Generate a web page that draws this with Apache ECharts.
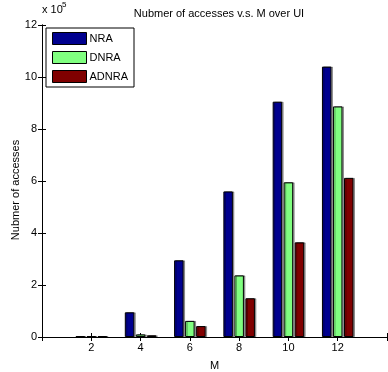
<!DOCTYPE html>
<html><head><meta charset="utf-8">
<script src="https://cdn.jsdelivr.net/npm/echarts@6/dist/echarts.min.js"></script>
<style>html,body{margin:0;padding:0;background:#fff}#c{width:388px;height:372px}</style>
</head><body><div id="c"></div>
<script>
const M = [2, 4, 6, 8, 10, 12];
const NRA = [0.03, 0.95, 2.95, 5.6, 9.05, 10.4];
const DNRA = [0.03, 0.1, 0.62, 2.37, 5.95, 8.87];
const ADNRA = [0.03, 0.065, 0.42, 1.49, 3.64, 6.12];
const yTicks = [0, 2, 4, 6, 8, 10, 12];
const FONT = 'Liberation Sans';
const chart = echarts.init(document.getElementById('c'), null, {renderer: 'canvas'});
const pair = arr => arr.map((v, i) => [M[i], v]);
const axisLine = {show: true, lineStyle: {color: '#000', width: 1}};
const tick = {show: true, inside: true, length: 4, lineStyle: {color: '#000'}};
const barStyle = c => ({color: c, borderColor: '#000', borderWidth: 1, shadowColor: 'rgba(0,0,0,0.35)', shadowOffsetX: 1.5});
chart.setOption({
  animation: false,
  textStyle: {fontFamily: FONT},
  title: {text: 'Nubmer of accesses v.s. M over UI', left: 214, top: 3, textAlign: 'center',
    textStyle: {fontFamily: FONT, fontSize: 11, fontWeight: 'normal', color: '#000'}},
  grid: {left: 42, right: 1, top: 25, bottom: 35, containLabel: false, outerBoundsMode: 'none'},
  legend: {
    left: 46, top: 28, orient: 'vertical', itemWidth: 34, itemHeight: 12, itemGap: 6, icon: 'rect',
    padding: [4, 6, 4, 6], borderColor: '#000', borderWidth: 1, backgroundColor: '#fff',
    textStyle: {fontFamily: FONT, fontSize: 11, color: '#000', padding: [0, 0, 0, -2]},
    itemStyle: {borderColor: '#000', borderWidth: 1},
    data: ['NRA', 'DNRA', 'ADNRA']
  },
  xAxis: [{
    type: 'value', min: 0, max: 14, interval: 2, name: 'M', nameLocation: 'middle', nameGap: 23,
    nameTextStyle: {fontFamily: FONT, fontSize: 11, color: '#000'},
    axisLine: axisLine, axisTick: tick, splitLine: {show: false},
    axisLabel: {fontFamily: FONT, fontSize: 11, color: '#000', margin: 5,
      formatter: v => (M.indexOf(v) >= 0 ? String(v) : '')}
  }, {
    type: 'value', position: 'top', min: 0, max: 14, interval: 2,
    axisLine: axisLine, axisTick: tick, axisLabel: {show: false}, splitLine: {show: false}
  }],
  yAxis: [{
    type: 'value', min: 0, max: 12, interval: 2,
    axisLine: axisLine, axisTick: tick, splitLine: {show: false},
    axisLabel: {fontFamily: FONT, fontSize: 11, color: '#000', margin: 5,
      formatter: v => (yTicks.indexOf(v) >= 0 ? String(v) : '')}
  }, {
    type: 'value', position: 'right', min: 0, max: 12, interval: 2,
    axisLine: axisLine, axisTick: tick, axisLabel: {show: false}, splitLine: {show: false}
  }],
  graphic: [
    {type: 'text', position: [16, 190], rotation: Math.PI / 2,
      style: {text: 'Nubmer of accesses', font: '11px "Liberation Sans"', fill: '#000', textAlign: 'center', textVerticalAlign: 'middle'}},
    {type: 'text', position: [42, 10], style: {text: 'x 10', font: '11px "Liberation Sans"', fill: '#000', textVerticalAlign: 'middle'}},
    {type: 'text', position: [62, 5], style: {text: '5', font: '8px "Liberation Sans"', fill: '#000', textVerticalAlign: 'middle'}}
  ],
  series: [
    {name: 'NRA', type: 'bar', data: pair(NRA), barWidth: 9.5, barGap: '16%', itemStyle: barStyle('#00008F')},
    {name: 'DNRA', type: 'bar', data: pair(DNRA), barWidth: 9.5, barGap: '16%', itemStyle: barStyle('#80FF80')},
    {name: 'ADNRA', type: 'bar', data: pair(ADNRA), barWidth: 9.5, barGap: '16%', itemStyle: barStyle('#800000')}
  ]
});
</script></body></html>
